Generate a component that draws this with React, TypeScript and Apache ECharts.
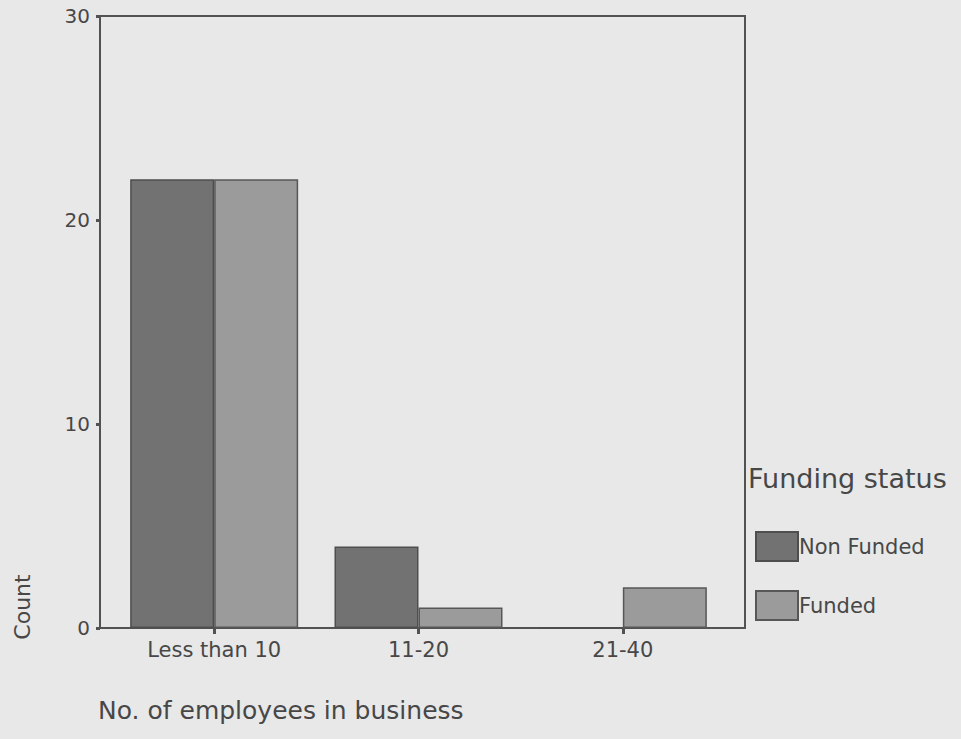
import React, { useEffect, useRef } from "react";
import * as echarts from "echarts";

const categories = ["Less than 10", "11-20", "21-40"];
const nonFunded = [22, 4, 0];
const funded = [22, 1, 2];
const seriesNames = ["Non Funded", "Funded"];
const yTicks = { min: 0, max: 30, interval: 10 };

const FONT = "DejaVu Sans";
const TEXT = "#474747";
const LINE = "#525252";
const BG = "#e8e8e8";

export default function App() {
  const ref = useRef<HTMLDivElement>(null);
  useEffect(() => {
    document.body.style.margin = "0";
    document.body.style.background = BG;
    const chart = echarts.init(ref.current!, undefined, { renderer: "svg" });
    chart.setOption({
      animation: false,
      backgroundColor: BG,
      textStyle: { fontFamily: FONT, color: TEXT },
      grid: [
        { left: 112, right: 236, top: 16, bottom: 111, show: false },
        {
          left: 100, right: 216, top: 16, bottom: 111, show: true,
          borderColor: LINE, borderWidth: 2, backgroundColor: "transparent",
        },
      ],
      xAxis: [
        {
          type: "category", gridIndex: 0, data: categories,
          axisLine: { show: false },
          axisTick: { show: true, alignWithLabel: true, length: 6, inside: false, lineStyle: { color: LINE, width: 3 } },
          axisLabel: { color: TEXT, fontSize: 21, fontFamily: FONT, margin: 11 },
        },
        { type: "value", gridIndex: 1, show: false, min: 0, max: 1 },
      ],
      yAxis: [
        { type: "value", gridIndex: 0, show: false, ...yTicks },
        {
          type: "value", gridIndex: 1, ...yTicks,
          axisLine: { show: true, lineStyle: { color: LINE, width: 2 } },
          axisTick: { show: true, length: 4, lineStyle: { color: LINE, width: 3 } },
          axisLabel: { color: TEXT, fontSize: 20, fontFamily: FONT, margin: 10 },
          splitLine: { show: false },
        },
      ],
      legend: {
        orient: "vertical", left: 750, top: 526,
        itemWidth: 42, itemHeight: 29, itemGap: 28,
        icon: "rect",
        textStyle: { color: TEXT, fontSize: 21, fontFamily: FONT, padding: [0, 0, 0, -4] },
        data: seriesNames,
      },
      graphic: [
        {
          type: "text", left: 748, top: 465,
          style: { text: "Funding status", fill: TEXT, font: `27px "${FONT}"` },
        },
        {
          type: "text", x: 22, y: 607, rotation: Math.PI / 2,
          style: { text: "Count", fill: TEXT, font: `22px "${FONT}"`, align: "center", verticalAlign: "middle" },
        },
        {
          type: "text", left: 98, top: 698,
          style: { text: "No. of employees in business", fill: TEXT, font: `25px "${FONT}"` },
        },
      ],
      series: [
        {
          name: seriesNames[0], type: "bar", xAxisIndex: 0, yAxisIndex: 0,
          data: nonFunded, barWidth: 84, barGap: "0%",
          itemStyle: { color: "#727272", borderColor: "#4e4e4e", borderWidth: 1.5 },
        },
        {
          name: seriesNames[1], type: "bar", xAxisIndex: 0, yAxisIndex: 0,
          data: funded, barWidth: 84, barGap: "0%",
          itemStyle: { color: "#9b9b9b", borderColor: "#575757", borderWidth: 1.5 },
        },
      ],
    });
    return () => chart.dispose();
  }, []);
  return (
    <div
      ref={ref}
      style={{ position: "absolute", left: 0, top: 0, width: 961, height: 739, background: BG }}
    />
  );
}
